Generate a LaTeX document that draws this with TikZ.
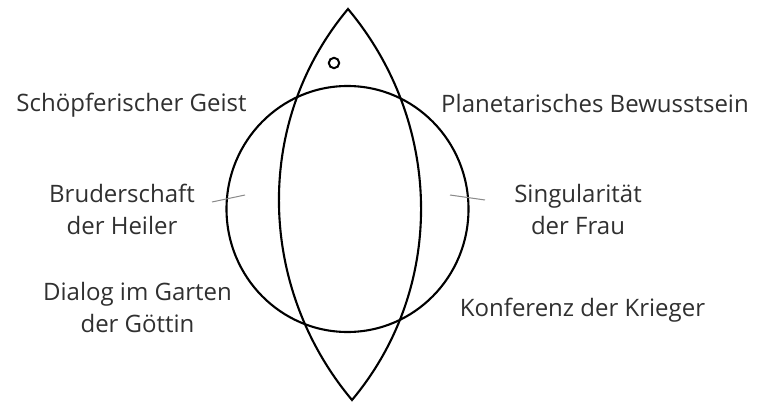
\documentclass[tikz,border=0pt]{standalone}
\usepackage{fontspec}
\setmainfont{Open Sans}
\definecolor{txt}{HTML}{303030}
\definecolor{tick}{HTML}{8A8A8A}
\begin{document}
\begin{tikzpicture}[x=1pt,y=-1pt,
  lbl/.style={font=\fontsize{24}{32}\selectfont, text=txt, inner sep=0pt, align=center, anchor=base},
  figline/.style={line width=2.1pt, black},
  tickline/.style={line width=1pt, tick}]
\useasboundingbox[fill=white] (0,0) rectangle (758,403);
% lens (vesica)
\coordinate (top) at (348,9);
\coordinate (bot) at (352,400);
\draw[figline] (top) .. controls (253.3,121.9) and (257.3,287.1) .. (bot)
               .. controls (446.7,287.1) and (442.7,121.9) .. (top) -- cycle;
% circle
\coordinate (c) at (347.5,209);
\draw[figline] (c) ellipse [x radius=121, y radius=123];
% small circle
\coordinate (dot) at (334,63);
\draw[line width=2pt] (dot) circle [radius=5.2];
% ticks
\coordinate (tl1) at (212,202);
\coordinate (tl2) at (245,195);
\coordinate (tr1) at (450,195);
\coordinate (tr2) at (485,200);
\draw[tickline] (tl1) -- (tl2);
\draw[tickline] (tr1) -- (tr2);
% labels
\node[lbl] (geist) at (131.5,112) {Schöpferischer Geist};
\node[lbl] (planet) at (595,113) {Planetarisches Bewusstsein};
\node[lbl] (bruder) at (122,235) {Bruderschaft\\der Heiler};
\node[lbl] (sing) at (578,235) {Singularität\\der Frau};
\node[lbl] (dialog) at (137.5,333) {Dialog im Garten\\der Göttin};
\node[lbl] (konf) at (582.5,317) {Konferenz der Krieger};
\end{tikzpicture}
\end{document}
